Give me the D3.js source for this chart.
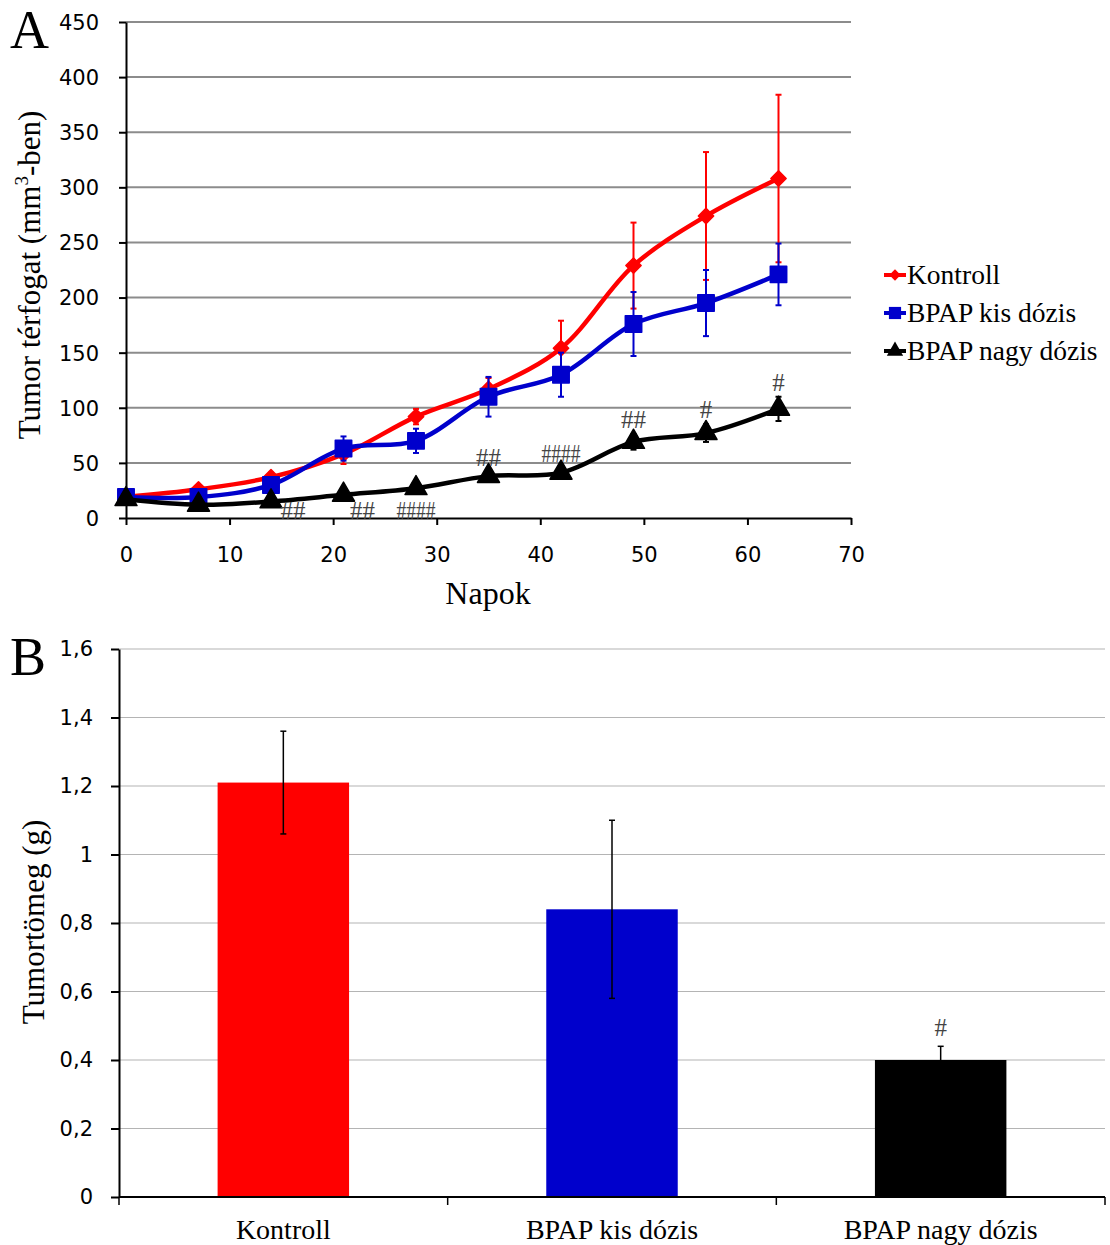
<!DOCTYPE html>
<html>
<head>
<meta charset="utf-8">
<script src="https://cdn.jsdelivr.net/npm/d3@7"></script>
<style>
  body { margin: 0; background: #fff; }
  svg text { fill: #000; }
  .tick text { font-family: "DejaVu Sans", sans-serif; }
  .serif { font-family: "Liberation Serif", "Times New Roman", serif; }
</style>
</head>
<body>
<div id="chart-area"></div>
<script>
// ---- data: panel A (tumor volume over days)
const days = [0, 7, 14, 21, 28, 35, 42, 49, 56, 63];
const kontroll    = [19, 26, 37, 58, 92, 117, 154, 229, 274, 308];
const kontrollErr = [3, 3, 4, 9, 7, 10, 25, 39, 58, 76];
const kis         = [19, 19, 30, 63, 70, 110, 130, 176, 195, 221];
const kisErr      = [3, 3, 4, 11, 11, 18, 20, 29, 30, 28];
const nagy        = [17, 12, 15, 21, 27, 38, 41, 69, 77, 99];
const nagyErr     = [3, 2, 2, 2, 3, 4, 4, 7, 8, 11];
const nagyMarks   = ["", "", "##", "##", "####", "##", "####", "##", "#", "#"];
const seriesNames = ["Kontroll", "BPAP kis dózis", "BPAP nagy dózis"];
const yTicksA = [0, 50, 100, 150, 200, 250, 300, 350, 400, 450];
const xTicksA = [0, 10, 20, 30, 40, 50, 60, 70];

// ---- data: panel B (tumor mass)
const groups = ["Kontroll", "BPAP kis dózis", "BPAP nagy dózis"];
const mass    = [1.21, 0.84, 0.40];
const massErr = [0.15, 0.26, 0.04];
const massMarks = ["", "", "#"];
const yTicksB = [0, 0.2, 0.4, 0.6, 0.8, 1, 1.2, 1.4, 1.6];

const colors = ["#ff0000", "#0000cc", "#000000"];

const svg = d3.select("#chart-area").append("svg")
  .attr("width", 1110).attr("height", 1245);

// wide diamond (rotated square), like the spreadsheet marker
const wideDiamond = {
  draw(ctx, size) {
    let r = Math.sqrt(size) / 2 * 1.25;
    ctx.moveTo(0, -r); ctx.lineTo(r, 0); ctx.lineTo(0, r); ctx.lineTo(-r, 0); ctx.closePath();
  }
};

// ================= Panel A =================
let x = d3.scaleLinear().domain([0, 70]).range([126, 851]);
let y = d3.scaleLinear().domain([0, 450]).range([518, 22]);

// gridlines
svg.append("g")
  .selectAll("line").data(yTicksA.slice(1))
  .enter().append("line")
    .attr("x1", 126).attr("x2", 851)
    .attr("y1", d => y(d)).attr("y2", d => y(d))
    .attr("stroke", "#8c8c8c").attr("stroke-width", 2);

let yAxisA = svg.append("g")
  .attr("transform", "translate(126,0)")
  .call(d3.axisLeft(y).tickValues(yTicksA).tickSize(7).tickSizeOuter(0).tickPadding(20));
let xAxisA = svg.append("g")
  .attr("transform", `translate(0,${y(0)})`)
  .call(d3.axisBottom(x).tickValues(xTicksA).tickSize(7).tickSizeOuter(0).tickPadding(22));
[yAxisA, xAxisA].forEach(a => {
  a.selectAll("path, line").attr("stroke", "#000").attr("stroke-width", 2);
  a.selectAll("text").attr("font-size", "21px").attr("font-family", "DejaVu Sans");
});
yAxisA.selectAll("text").attr("dy", "0.35em");

// axis titles
svg.append("text").attr("class", "serif")
  .attr("x", 10).attr("y", 48).attr("font-size", "54px").text("A");
let ylab = svg.append("text").attr("class", "serif")
  .attr("transform", "translate(40,275) rotate(-90)")
  .attr("text-anchor", "middle").attr("font-size", "31px");
ylab.append("tspan").text("Tumor térfogat (mm");
ylab.append("tspan").attr("font-size", "19px").attr("dy", "-12").text("3");
ylab.append("tspan").attr("dy", "12").text("-ben)");
svg.append("text").attr("class", "serif")
  .attr("x", 488).attr("y", 604).attr("text-anchor", "middle")
  .attr("font-size", "32px").text("Napok");

const seriesA = [
  { vals: kontroll, err: kontrollErr, shape: wideDiamond, size: 150 },
  { vals: kis, err: kisErr, shape: d3.symbolSquare, size: 270 },
  { vals: nagy, err: nagyErr, shape: d3.symbolTriangle, size: 210 }
];

let line = d3.line().x(d => x(d[0])).y(d => y(d[1])).curve(d3.curveCatmullRom.alpha(0.5));

seriesA.forEach((s, i) => {
  let pts = days.map((d, j) => [d, s.vals[j], s.err[j]]);
  let g = svg.append("g");
  // error bars
  let eb = g.selectAll(".eb").data(pts).enter().append("g")
    .attr("stroke", colors[i]).attr("stroke-width", 2);
  eb.append("line")
    .attr("x1", d => x(d[0])).attr("x2", d => x(d[0]))
    .attr("y1", d => y(d[1] - d[2])).attr("y2", d => y(d[1] + d[2]));
  eb.append("line")
    .attr("x1", d => x(d[0]) - 3).attr("x2", d => x(d[0]) + 3)
    .attr("y1", d => y(d[1] + d[2])).attr("y2", d => y(d[1] + d[2]));
  eb.append("line")
    .attr("x1", d => x(d[0]) - 3).attr("x2", d => x(d[0]) + 3)
    .attr("y1", d => y(d[1] - d[2])).attr("y2", d => y(d[1] - d[2]));
  // line
  g.append("path").datum(pts)
    .attr("d", line).attr("fill", "none")
    .attr("stroke", colors[i]).attr("stroke-width", 4.5);
  // markers
  g.selectAll(".mk").data(pts).enter().append("path")
    .attr("transform", d => `translate(${x(d[0])},${y(d[1])})`)
    .attr("d", d3.symbol().type(s.shape).size(s.size))
    .attr("fill", colors[i]).attr("stroke", colors[i]).attr("stroke-width", 1.5)
    .attr("stroke-linejoin", "round");
});

// significance marks for the high-dose series (first three sit under the line)
const belowShift = { 2: 22, 3: 19, 4: 0 };
svg.append("g").selectAll("text")
  .data(days.map((d, j) => ({ d, v: nagy[j], e: nagyErr[j], t: nagyMarks[j], j })).filter(o => o.t))
  .enter().append("text").attr("class", "serif")
  .attr("font-size", "25px")
  .attr("text-anchor", "middle")
  .attr("x", o => o.j in belowShift ? x(o.d) + belowShift[o.j] : x(o.d))
  .attr("y", o => o.j in belowShift ? y(0) + 1 : y(o.v + o.e) - 6)
  .each(function (o) {
    if (o.t.length > 3) d3.select(this).attr("textLength", 39).attr("lengthAdjust", "spacingAndGlyphs");
  })
  .style("fill", "#444")
  .text(o => o.t);

// legend
let leg = svg.append("g");
seriesNames.forEach((n, i) => {
  let ly = 275 + i * 38;
  leg.append("line").attr("x1", 884).attr("x2", 906).attr("y1", ly).attr("y2", ly)
    .attr("stroke", colors[i]).attr("stroke-width", 4);
  leg.append("path").attr("transform", `translate(895,${ly})`)
    .attr("d", d3.symbol().type(seriesA[i].shape).size(seriesA[i].size * 0.55))
    .attr("fill", colors[i]);
  leg.append("text").attr("class", "serif")
    .attr("x", 907).attr("y", ly + 9).attr("font-size", "27.5px").text(n);
});

// ================= Panel B =================
let xb = d3.scaleBand().domain(groups).range([119, 1105]).paddingInner(0.6).paddingOuter(0.3);
let yb = d3.scaleLinear().domain([0, 1.6]).range([1197, 649]);
const comma = d3.formatLocale({ decimal: ",", thousands: " ", grouping: [3], currency: ["", ""] });

svg.append("g")
  .selectAll("line").data(yTicksB.slice(1))
  .enter().append("line")
    .attr("x1", 119).attr("x2", 1105)
    .attr("y1", d => yb(d)).attr("y2", d => yb(d))
    .attr("stroke", "#b4b4b4").attr("stroke-width", 1.2);

svg.append("g").selectAll("rect").data(groups).enter().append("rect")
  .attr("x", d => xb(d)).attr("width", xb.bandwidth())
  .attr("y", (d, i) => yb(mass[i])).attr("height", (d, i) => yb(0) - yb(mass[i]))
  .attr("fill", (d, i) => colors[i]);

let ebB = svg.append("g").selectAll("g").data(groups).enter().append("g")
  .attr("stroke", "#000").attr("stroke-width", 1.5);
ebB.append("line")
  .attr("x1", d => xb(d) + xb.bandwidth() / 2).attr("x2", d => xb(d) + xb.bandwidth() / 2)
  .attr("y1", (d, i) => yb(mass[i] - massErr[i])).attr("y2", (d, i) => yb(mass[i] + massErr[i]));
ebB.append("line")
  .attr("x1", d => xb(d) + xb.bandwidth() / 2 - 3).attr("x2", d => xb(d) + xb.bandwidth() / 2 + 3)
  .attr("y1", (d, i) => yb(mass[i] + massErr[i])).attr("y2", (d, i) => yb(mass[i] + massErr[i]));
ebB.append("line")
  .attr("x1", d => xb(d) + xb.bandwidth() / 2 - 3).attr("x2", d => xb(d) + xb.bandwidth() / 2 + 3)
  .attr("y1", (d, i) => yb(mass[i] - massErr[i])).attr("y2", (d, i) => yb(mass[i] - massErr[i]));

svg.append("g").selectAll("text").data(groups).enter().append("text")
  .attr("class", "serif").attr("font-size", "25px").attr("text-anchor", "middle")
  .attr("x", d => xb(d) + xb.bandwidth() / 2)
  .attr("y", (d, i) => yb(mass[i] + massErr[i]) - 10)
  .style("fill", "#444")
  .text((d, i) => massMarks[i]);

let yAxisB = svg.append("g")
  .attr("transform", "translate(119,0)")
  .call(d3.axisLeft(yb).tickValues(yTicksB).tickSize(8).tickSizeOuter(0).tickPadding(18)
    .tickFormat(d => comma.format(",")(d)));
yAxisB.selectAll("text").attr("font-size", "21px").attr("font-family", "DejaVu Sans").attr("fill", "#222");

// x axis of B: ticks at band boundaries
let xAxisB = svg.append("g").attr("transform", `translate(0,${yb(0)})`);
xAxisB.append("line").attr("x1", 119).attr("x2", 1105).attr("stroke", "#000").attr("stroke-width", 2);
let bounds = groups.map(d => xb(d) - xb.step() * xb.paddingInner() / 2);
bounds[0] = 119; bounds.push(1105);
xAxisB.selectAll(".bt").data(bounds).enter().append("line")
  .attr("x1", d => d).attr("x2", d => d).attr("y1", 0).attr("y2", 8)
  .attr("stroke", "#000").attr("stroke-width", 1.5);
xAxisB.selectAll(".cl").data(groups).enter().append("text")
  .attr("class", "serif").attr("font-size", "28px").attr("text-anchor", "middle")
  .attr("x", d => xb(d) + xb.bandwidth() / 2).attr("y", 42)
  .text(d => d);
yAxisB.selectAll("path, line").attr("stroke", "#000").attr("stroke-width", 2);

svg.append("text").attr("class", "serif")
  .attr("x", 10).attr("y", 675).attr("font-size", "54px").text("B");
svg.append("text").attr("class", "serif")
  .attr("transform", "translate(44,922) rotate(-90)")
  .attr("text-anchor", "middle").attr("font-size", "31px").text("Tumortömeg (g)");
</script>
</body>
</html>
